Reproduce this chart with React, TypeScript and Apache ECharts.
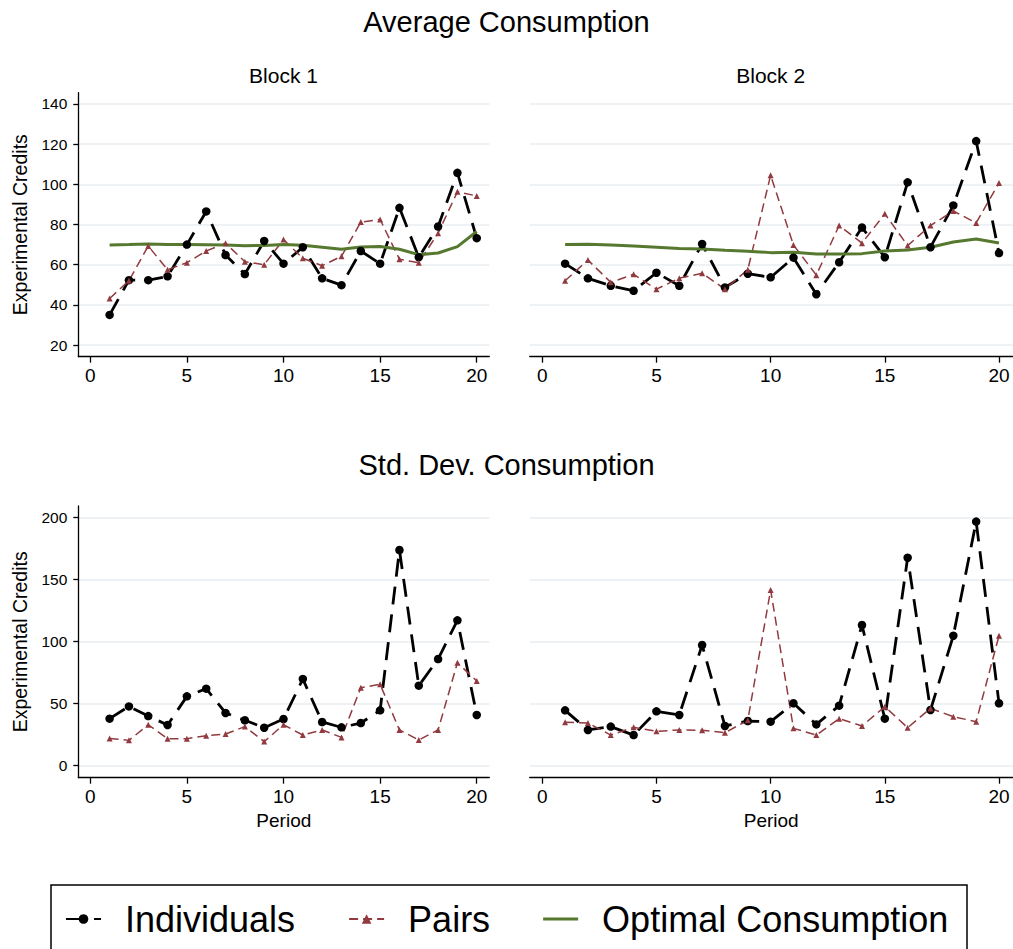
import React, { useEffect, useRef } from 'react';
import * as echarts from 'echarts';

// ---- data ----
const periods = [1, 2, 3, 4, 5, 6, 7, 8, 9, 10, 11, 12, 13, 14, 15, 16, 17, 18, 19, 20];
const xTicks = [0, 5, 10, 15, 20];
const avgTicks = [20, 40, 60, 80, 100, 120, 140];
const sdTicks = [0, 50, 100, 150, 200];

const indivAvgB1 = [35.0, 52.3, 52.3, 54.2, 70.0, 86.5, 64.8, 55.3, 71.8, 60.5, 68.7, 53.2, 49.8, 66.8, 60.5, 88.3, 63.7, 79.0, 105.7, 73.2];
const pairsAvgB1 = [43.2, 52.0, 69.3, 57.5, 61.0, 66.8, 70.7, 61.5, 60.0, 72.5, 63.2, 59.5, 64.2, 81.2, 82.5, 62.7, 61.0, 75.7, 96.3, 94.2];
const optAvgB1 = [69.8, 70.0, 70.3, 70.1, 70.0, 69.9, 69.8, 69.4, 69.6, 70.0, 69.7, 68.7, 67.7, 68.8, 69.0, 67.7, 65.0, 65.8, 69.0, 76.5];

const indivAvgB2 = [60.5, 53.2, 49.5, 47.0, 56.0, 49.5, 70.3, 48.7, 55.5, 53.7, 63.5, 45.3, 61.2, 78.5, 63.7, 101.0, 68.7, 89.5, 121.5, 65.8];
const pairsAvgB2 = [52.0, 62.3, 51.2, 55.2, 47.8, 53.3, 55.7, 47.8, 57.5, 104.5, 69.8, 54.8, 79.5, 70.7, 85.3, 69.5, 79.5, 86.7, 80.8, 100.7];
const optAvgB2 = [70.0, 70.2, 69.8, 69.3, 68.7, 68.0, 67.8, 67.2, 66.7, 66.0, 66.2, 65.3, 65.3, 65.5, 66.8, 67.3, 68.7, 71.3, 72.8, 70.8];

const indivSdB1 = [37.9, 47.8, 40.0, 32.8, 55.9, 62.1, 42.5, 36.6, 30.6, 37.6, 69.9, 35.2, 30.9, 34.4, 44.6, 173.9, 64.5, 86.0, 117.2, 40.9];
const pairsSdB1 = [22.0, 20.4, 33.0, 21.8, 21.8, 24.2, 25.5, 31.5, 19.4, 33.0, 24.7, 28.8, 22.8, 62.9, 65.6, 28.8, 20.7, 28.8, 83.0, 68.3];

const indivSdB2 = [44.6, 28.8, 31.5, 24.7, 43.8, 40.9, 97.3, 32.0, 36.0, 35.5, 50.3, 33.3, 48.4, 113.4, 37.9, 167.7, 44.9, 104.8, 196.8, 50.3];
const pairsSdB2 = [35.0, 34.4, 24.7, 30.9, 27.7, 28.8, 28.5, 26.6, 36.6, 141.7, 30.1, 24.7, 37.9, 32.0, 47.6, 30.6, 46.2, 39.5, 35.5, 104.8];

const seriesNames = ['Individuals', 'Pairs', 'Optimal Consumption'];

// ---- styles ----
const FONT = '"Liberation Sans", Arial, Helvetica, sans-serif';
const BLACK = '#000000';
const PAIR = '#913a3f';
const GREEN = '#56792f';
const GRIDC = '#e8eef2';

const pts = (arr: number[]) => periods.map((p, i) => [p, arr[i]]);

export default function App() {
  const ref = useRef<HTMLDivElement>(null);

  useEffect(() => {
    if (!ref.current) return;
    const chart = echarts.init(ref.current, undefined, { renderer: 'svg' });

    const grids = [
      { left: 78.3, top: 92.7, width: 411, height: 264 },
      { left: 529.7, top: 92.7, width: 483, height: 264 },
      { left: 78.3, top: 506, width: 411, height: 271.7 },
      { left: 529.7, top: 506, width: 483, height: 271.7 },
    ];

    const xAxis = grids.map((_, i) => {
      const isLeft = i % 2 === 0;
      const isBottom = i >= 2;
      return {
        type: 'value',
        gridIndex: i,
        min: isLeft ? -0.62 : -0.55,
        max: isLeft ? 20.65 : 20.6,
        name: isBottom ? 'Period' : '',
        nameLocation: 'middle',
        nameGap: 33,
        nameTextStyle: { fontSize: 19, fontFamily: FONT, color: BLACK },
        axisLine: { show: true, onZero: false, lineStyle: { color: BLACK, width: 1.3 } },
        axisTick: { show: true, length: 6, customValues: xTicks, lineStyle: { color: BLACK, width: 1.3 } },
        axisLabel: { show: true, customValues: xTicks, fontSize: 19, margin: 9, color: BLACK, fontFamily: FONT },
        splitLine: { show: false },
      };
    });

    const yAxis = grids.map((_, i) => {
      const isLeft = i % 2 === 0;
      const isBottom = i >= 2;
      const ticks = isBottom ? sdTicks : avgTicks;
      return {
        type: 'value',
        gridIndex: i,
        min: isBottom ? -9.7 : 14.2,
        max: isBottom ? 209.4 : 145.6,
        name: isLeft ? 'Experimental Credits' : '',
        nameLocation: 'middle',
        nameGap: 48,
        nameTextStyle: { fontSize: 19.5, fontFamily: FONT, color: BLACK },
        axisLine: { show: isLeft, onZero: false, lineStyle: { color: BLACK, width: 1.3 } },
        axisTick: { show: isLeft, length: 5, customValues: ticks, lineStyle: { color: BLACK, width: 1.3 } },
        axisLabel: { show: isLeft, customValues: ticks, fontSize: 15.5, margin: 11, color: BLACK, fontFamily: FONT },
        splitLine: { show: true, lineStyle: { color: GRIDC, width: 1.5 } },
      };
    });

    const indivStyle = {
      type: 'line',
      name: seriesNames[0],
      symbol: 'circle',
      symbolSize: 8.5,
      itemStyle: { color: BLACK },
      lineStyle: { color: BLACK, width: 2.8, type: [18, 10] },
    };
    const pairStyle = {
      type: 'line',
      name: seriesNames[1],
      symbol: 'triangle',
      symbolSize: 6,
      itemStyle: { color: PAIR },
      lineStyle: { color: PAIR, width: 1.5, type: [9, 5] },
    };
    const optStyle = {
      type: 'line',
      name: seriesNames[2],
      symbol: 'none',
      showSymbol: false,
      itemStyle: { color: GREEN },
      lineStyle: { color: GREEN, width: 3 },
    };

    const series: any[] = [
      { ...indivStyle, xAxisIndex: 0, yAxisIndex: 0, data: pts(indivAvgB1) },
      { ...pairStyle, xAxisIndex: 0, yAxisIndex: 0, data: pts(pairsAvgB1) },
      { ...optStyle, xAxisIndex: 0, yAxisIndex: 0, data: pts(optAvgB1) },
      { ...indivStyle, xAxisIndex: 1, yAxisIndex: 1, data: pts(indivAvgB2) },
      { ...pairStyle, xAxisIndex: 1, yAxisIndex: 1, data: pts(pairsAvgB2) },
      { ...optStyle, xAxisIndex: 1, yAxisIndex: 1, data: pts(optAvgB2) },
      { ...indivStyle, xAxisIndex: 2, yAxisIndex: 2, data: pts(indivSdB1) },
      { ...pairStyle, xAxisIndex: 2, yAxisIndex: 2, data: pts(pairsSdB1) },
      { ...indivStyle, xAxisIndex: 3, yAxisIndex: 3, data: pts(indivSdB2) },
      { ...pairStyle, xAxisIndex: 3, yAxisIndex: 3, data: pts(pairsSdB2) },
    ];

    chart.setOption({
      animation: false,
      backgroundColor: '#ffffff',
      title: [
        { text: 'Average Consumption', left: 'center', top: 2, textStyle: { fontSize: 29, fontWeight: 'normal', fontFamily: FONT, color: BLACK } },
        { text: 'Std. Dev. Consumption', left: 'center', top: 445, textStyle: { fontSize: 29, fontWeight: 'normal', fontFamily: FONT, color: BLACK } },
      ],
      grid: grids,
      xAxis,
      yAxis,
      series,
      legend: {
        data: [
          { name: seriesNames[0] },
          { name: seriesNames[1] },
          { name: seriesNames[2], icon: 'path://M0 0H35V3.2H0Z', itemStyle: { color: GREEN } },
        ],
        left: 65,
        top: 901,
        orient: 'horizontal',
        itemWidth: 35,
        itemHeight: 12,
        itemGap: 53,
        padding: 0,
        selectedMode: false,
        textStyle: { fontSize: 36, fontFamily: FONT, color: BLACK, padding: [0, 0, 0, 19] },
      },
      graphic: [
        { type: 'text', x: 283.5, y: 75, style: { text: 'Block 1', textAlign: 'center', textVerticalAlign: 'middle', fontSize: 21, fontFamily: FONT, fill: BLACK } },
        { type: 'text', x: 770.7, y: 75, style: { text: 'Block 2', textAlign: 'center', textVerticalAlign: 'middle', fontSize: 21, fontFamily: FONT, fill: BLACK } },
        { type: 'rect', shape: { x: 51, y: 885, width: 916, height: 100 }, style: { fill: 'none', stroke: BLACK, lineWidth: 1.5 } },
      ],
    });

    return () => chart.dispose();
  }, []);

  return (
    <div
      ref={ref}
      style={{ position: 'absolute', left: 0, top: 0, width: 1013, height: 949, background: '#fff' }}
    />
  );
}
